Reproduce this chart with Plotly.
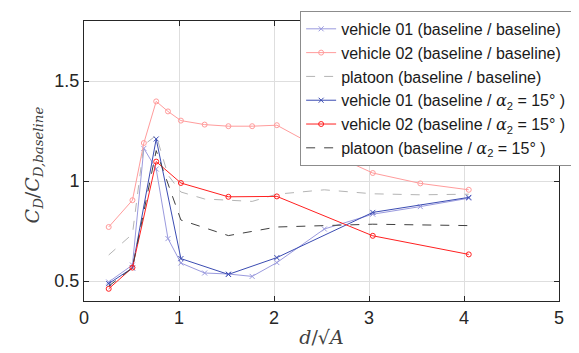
import plotly.graph_objects as go

# x positions (d / sqrt(A))
x_base = [0.26, 0.51, 0.63, 0.76, 0.884, 1.02, 1.27, 1.52, 1.77, 2.03, 2.53, 3.04, 3.54, 4.05]
x_alpha = [0.26, 0.51, 0.76, 1.02, 1.52, 2.03, 3.04, 4.05]

# baseline / baseline
veh01_base = [0.495, 0.58, 1.163, 1.06, 0.712, 0.59, 0.54, 0.535, 0.523, 0.592, 0.76, 0.834, 0.872, 0.914]
veh02_base = [0.77, 0.904, 1.19, 1.398, 1.348, 1.302, 1.282, 1.274, 1.274, 1.279, 1.15, 1.04, 0.988, 0.956]
plat_base = [0.63, 0.735, 1.18, 1.228, 1.03, 0.945, 0.91, 0.904, 0.898, 0.934, 0.956, 0.936, 0.931, 0.934]

# baseline / alpha2 = 15 deg
veh01_alpha = [0.487, 0.565, 1.21, 0.612, 0.533, 0.617, 0.843, 0.918]
veh02_alpha = [0.461, 0.567, 1.097, 0.99, 0.921, 0.923, 0.726, 0.633]
plat_alpha = [0.474, 0.566, 1.152, 0.805, 0.727, 0.77, 0.784, 0.777]

A2 = "<span style=\"font-family:'DejaVu Serif';font-style:italic\">α</span><sub>2</sub>"
names = [
    "vehicle 01 (baseline / baseline)",
    "vehicle 02 (baseline / baseline)",
    "platoon (baseline / baseline)",
    "vehicle 01 (baseline / " + A2 + " = 15° )",
    "vehicle 02 (baseline / " + A2 + " = 15° )",
    "platoon (baseline / " + A2 + " = 15° )",
]

fig = go.Figure()
fig.add_trace(go.Scatter(x=x_base, y=veh01_base, name=names[0], mode="lines+markers",
                         line=dict(color="#9a9ade", width=1),
                         marker=dict(symbol="x-thin-open", size=5, line=dict(color="#9a9ade", width=1))))
fig.add_trace(go.Scatter(x=x_base, y=veh02_base, name=names[1], mode="lines+markers",
                         line=dict(color="#ff9c9c", width=1),
                         marker=dict(symbol="circle-open", size=5, color="#ff9c9c", line=dict(width=1))))
fig.add_trace(go.Scatter(x=x_base, y=plat_base, name=names[2], mode="lines",
                         line=dict(color="#b4b4b4", width=1, dash="dash")))
fig.add_trace(go.Scatter(x=x_alpha, y=veh01_alpha, name=names[3], mode="lines+markers",
                         line=dict(color="#3b4cb2", width=1),
                         marker=dict(symbol="x-thin-open", size=5, line=dict(color="#3b4cb2", width=1))))
fig.add_trace(go.Scatter(x=x_alpha, y=veh02_alpha, name=names[4], mode="lines+markers",
                         line=dict(color="#ff2020", width=1),
                         marker=dict(symbol="circle-open", size=5, color="#ff2020", line=dict(width=1))))
fig.add_trace(go.Scatter(x=x_alpha, y=plat_alpha, name=names[5], mode="lines",
                         line=dict(color="#404040", width=1, dash="dash")))

axis_common = dict(
    showline=True, linecolor="#262626", linewidth=1, mirror="allticks",
    ticks="inside", ticklen=5, tickcolor="#262626",
    showgrid=True, gridcolor="#dedede", gridwidth=1, zeroline=False,
    tickfont=dict(family="Arial, Liberation Sans", size=18, color="#262626"),
)

fig.update_layout(
    width=579, height=353,
    margin=dict(l=76, r=28, t=13, b=60, autoexpand=False),
    paper_bgcolor="white", plot_bgcolor="white",
    font=dict(family="Arial, Liberation Sans", color="#262626"),
    xaxis=dict(range=[0, 5], tickvals=[0, 1, 2, 3, 4, 5], ticktext=["0", "1", "2", "3", "4", "5"],
               automargin=False,
               title=dict(text="<i>d</i>/√<i>A</i>", standoff=4,
                          font=dict(family="DejaVu Serif", size=19, color="#404040")),
               **axis_common),
    yaxis=dict(range=[0.4, 1.8], tickvals=[0.5, 1, 1.5], ticktext=["0.5", "1", "1.5"],
               automargin=False, **axis_common),
    legend=dict(x=0.455, y=1.036, xanchor="left", yanchor="top",
                bgcolor="white", bordercolor="#8c8c8c", borderwidth=1,
                font=dict(family="Arial, Liberation Sans", size=16, color="#1a1a1a"),
                itemwidth=30, tracegroupgap=0),
    showlegend=True,
    annotations=[dict(
        text="<i>C</i><sub><i>D</i></sub>/<i>C</i><sub><i>D,baseline</i></sub>",
        xref="paper", yref="paper", x=-0.107, y=0.485, xanchor="center", yanchor="middle",
        textangle=-90, showarrow=False,
        font=dict(family="DejaVu Serif", size=19, color="#404040"),
    )],
)

fig.write_html("out.html")
